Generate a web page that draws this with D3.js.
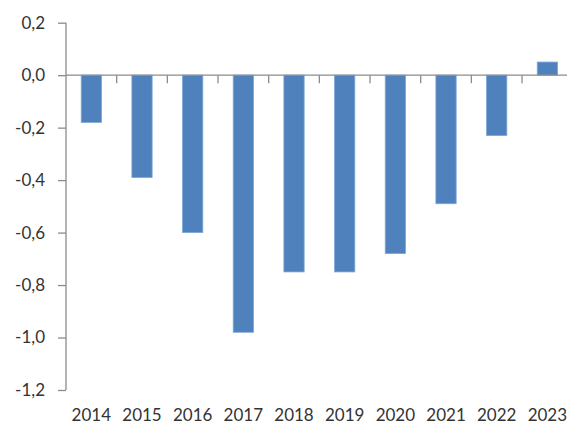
<!DOCTYPE html>
<html><head><meta charset="utf-8">
<script src="https://cdn.jsdelivr.net/npm/d3@7"></script>
<style>html,body{margin:0;padding:0;background:#fff;overflow:hidden}</style>
</head><body>
<svg id="c" width="567" height="425"></svg>
<script>
const years = ["2014","2015","2016","2017","2018","2019","2020","2021","2022","2023"];
const values = [-0.18,-0.39,-0.60,-0.98,-0.75,-0.75,-0.68,-0.49,-0.23,0.05];
const yTicks = [0.2,0.0,-0.2,-0.4,-0.6,-0.8,-1.0,-1.2];

(function(){
const svg = d3.select("#c");
const pL = 66, pR = 572.7, pT = 22.7, pB = 390;
const x = d3.scaleBand().domain(years).range([pL, pR]).paddingInner(0.6).paddingOuter(0.3);
const y = d3.scaleLinear().domain([-1.2, 0.2]).range([pB, pT]);
const fmt = v => d3.format(".1f")(v).replace(".", ",").replace("\u2212","-");
const axisCol = "#8c8c8c", textCol = "#333333", font = "Lato, 'Open Sans', sans-serif";

// bars
svg.append("g").selectAll("rect").data(values).join("rect")
  .attr("x", (d,i) => x(years[i]))
  .attr("width", x.bandwidth())
  .attr("y", d => y(Math.max(0,d)))
  .attr("height", d => Math.abs(y(d) - y(0)))
  .attr("fill", "#4f81bd")
  .attr("stroke", "#7ea6d8").attr("stroke-width", 0.8);

// y axis
const ya = svg.append("g").attr("transform", `translate(${pL},0)`)
  .call(d3.axisLeft(y).tickValues(yTicks).tickFormat(fmt).tickSize(8).tickPadding(13));
ya.select(".domain").attr("stroke", axisCol).attr("stroke-width", 1.3).attr("d", `M0,${pT}V${pB}`);
ya.selectAll(".tick line").attr("stroke", axisCol).attr("stroke-width", 1.3);
ya.selectAll("text").attr("fill", textCol).style("font-family", font).style("font-size", "17px");

// zero line with category ticks
const catTicks = d3.range(1, years.length).map(k => pL + k * x.step());
const zg = svg.append("g");
zg.append("line").attr("x1", pL).attr("x2", 567).attr("y1", y(0)).attr("y2", y(0))
  .attr("stroke", axisCol).attr("stroke-width", 1.3);
zg.selectAll("line.t").data(catTicks).join("line").attr("class","t")
  .attr("x1", d => d).attr("x2", d => d).attr("y1", y(0)).attr("y2", y(0)+8)
  .attr("stroke", axisCol).attr("stroke-width", 1.3);

// x labels
svg.append("g").selectAll("text").data(years).join("text")
  .attr("x", d => x(d) + x.bandwidth()/2).attr("y", 421)
  .attr("text-anchor", "middle").attr("fill", textCol)
  .style("font-family", font).style("font-size", "17px").text(d => d);
})();
</script>
</body></html>
